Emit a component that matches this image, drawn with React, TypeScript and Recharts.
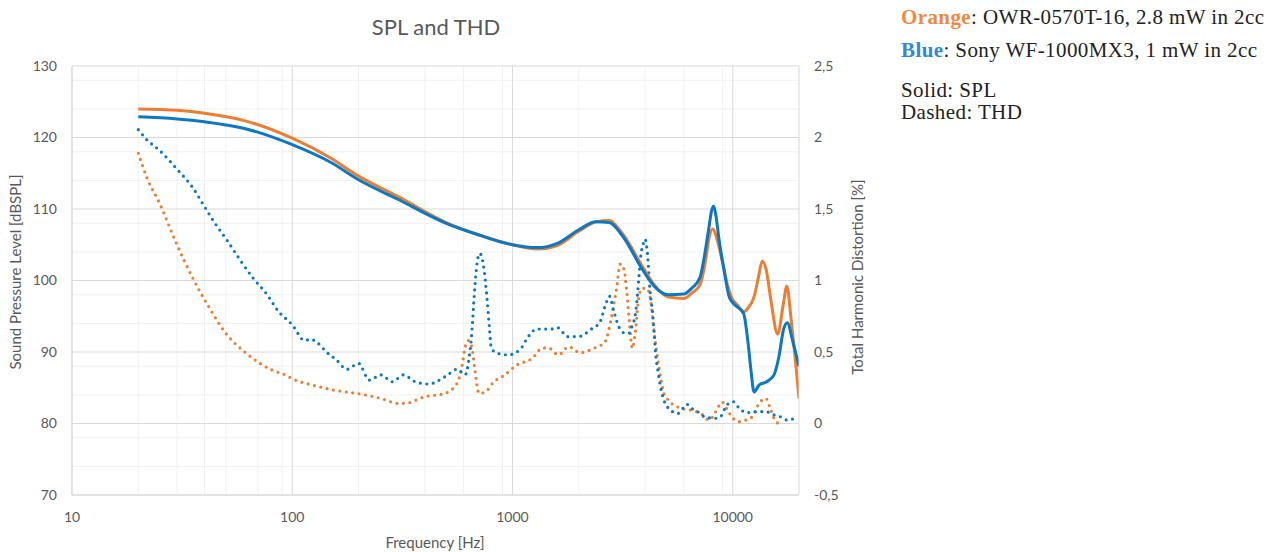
import React from 'react';
import { LineChart, Line, XAxis, YAxis, CartesianGrid } from 'recharts';

// SPL curves (dB SPL vs Hz)
const orangeSplFreq = [20, 30, 40, 60, 100, 150, 200, 300, 500, 700, 1000, 1300, 1600, 2000, 2400, 2750, 3150, 3900, 4400, 5100, 6000, 6500, 7100, 7540, 7800, 8130, 8500, 9000, 9500, 10000, 10500, 11200, 11700, 12500, 13100, 13600, 14200, 14900, 16000, 17000, 17600, 18500, 20000];
const orangeSplDb = [124.0, 123.8, 123.4, 122.4, 119.9, 117.1, 114.6, 111.8, 108.1, 106.4, 105.0, 104.4, 104.9, 106.9, 108.2, 108.4, 106.6, 101.9, 99.4, 97.7, 97.5, 98.2, 99.4, 102.9, 105.9, 107.2, 105.7, 102.5, 99.2, 97.3, 96.6, 95.6, 96.1, 97.7, 100.5, 102.7, 101.5, 97.3, 92.5, 96.8, 99.2, 94.0, 83.5];

const blueSplFreq = [20, 30, 40, 60, 100, 150, 200, 300, 500, 700, 1000, 1300, 1600, 2000, 2400, 2750, 3150, 3900, 4400, 5100, 6000, 6500, 7100, 7430, 7770, 8040, 8170, 8400, 8670, 9130, 9620, 10000, 11200, 11700, 12100, 12500, 13200, 14200, 15400, 16200, 17000, 17700, 18700, 20000];
const blueSplDb = [122.9, 122.6, 122.2, 121.3, 119.0, 116.5, 114.1, 111.4, 108.0, 106.4, 105.0, 104.6, 105.2, 107.1, 108.2, 108.1, 106.3, 101.5, 99.2, 98.0, 98.1, 98.9, 100.4, 103.3, 107.1, 109.9, 110.4, 109.0, 105.7, 101.5, 97.8, 96.9, 95.4, 91.7, 87.5, 84.4, 85.4, 85.8, 86.8, 89.3, 93.1, 94.1, 91.6, 88.0];

// THD curves (% vs Hz)
const orangeThdFreq = [20, 22, 25, 29.4, 35, 42, 50, 62, 82, 93, 101, 125, 154, 204, 252, 303, 325, 400, 492, 560, 590, 610, 630, 655, 675, 705, 755, 820, 910, 1050, 1230, 1360, 1450, 1620, 1800, 2030, 2340, 2630, 2820, 2960, 3090, 3200, 3300, 3400, 3500, 3620, 3730, 3870, 4080, 4240, 4390, 4550, 4700, 4870, 5130, 5830, 6440, 7160, 7810, 8370, 8960, 9460, 10140, 10680, 11460, 12290, 13170, 14130, 14900, 15690, 16830];
const orangeThdPct = [1.89, 1.71, 1.54, 1.28, 1.03, 0.81, 0.63, 0.49, 0.37, 0.34, 0.31, 0.267, 0.234, 0.206, 0.176, 0.141, 0.141, 0.187, 0.21, 0.28, 0.4, 0.537, 0.58, 0.526, 0.374, 0.21, 0.222, 0.29, 0.334, 0.41, 0.456, 0.526, 0.53, 0.48, 0.537, 0.495, 0.526, 0.57, 0.75, 0.93, 1.115, 1.085, 0.93, 0.7, 0.526, 0.65, 0.86, 0.945, 0.945, 0.86, 0.65, 0.47, 0.33, 0.21, 0.16, 0.106, 0.094, 0.07, 0.024, 0.083, 0.15, 0.094, 0.03, 0.013, 0.024, 0.048, 0.14, 0.176, 0.094, 0.013, -0.01];

const blueThdFreq = [20, 22, 24.7, 29.7, 35.5, 40, 44.6, 50.5, 58, 66.6, 77, 86, 100, 114, 121, 130, 143, 159, 177, 200, 224, 253, 285, 320, 362, 416, 500, 560, 610, 630, 655, 670, 685, 710, 740, 765, 785, 800, 840, 960, 1087, 1166, 1286, 1490, 1605, 1780, 2030, 2250, 2500, 2630, 2760, 2880, 3040, 3200, 3370, 3490, 3620, 3710, 3820, 3930, 4000, 4100, 4210, 4330, 4400, 4480, 4570, 4700, 4870, 5050, 5330, 5630, 6200, 6500, 6920, 7430, 8240, 8800, 9400, 10100, 10700, 11700, 12700, 14100, 15400, 16400, 17700, 19500];
const blueThdPct = [2.055, 1.98, 1.917, 1.785, 1.645, 1.516, 1.4, 1.283, 1.143, 1.015, 0.9, 0.79, 0.69, 0.58, 0.59, 0.565, 0.5, 0.444, 0.379, 0.42, 0.304, 0.34, 0.292, 0.34, 0.292, 0.276, 0.332, 0.379, 0.34, 0.42, 0.654, 0.887, 1.073, 1.19, 1.097, 0.887, 0.677, 0.537, 0.495, 0.48, 0.52, 0.596, 0.66, 0.66, 0.67, 0.607, 0.61, 0.654, 0.712, 0.817, 0.89, 0.79, 0.677, 0.635, 0.63, 0.68, 0.77, 0.93, 1.166, 1.26, 1.29, 1.19, 0.93, 0.77, 0.63, 0.467, 0.374, 0.257, 0.164, 0.117, 0.083, 0.07, 0.134, 0.106, 0.083, 0.048, 0.036, 0.048, 0.13, 0.152, 0.106, 0.076, 0.083, 0.083, 0.06, 0.048, 0.024, 0.043];

const freqTicks = [10, 100, 1000, 10000];
const splTicks = [70, 80, 90, 100, 110, 120, 130];
const thdTicks = [-0.5, 0, 0.5, 1, 1.5, 2, 2.5];

const zip = (f: number[], v: number[]) => f.map((x, i) => ({ f: x, v: v[i] }));

const ORANGE = '#ED7D31';
const BLUE = '#0A78C2';

// minor grid: 2..9 per decade, every 2 dB
const minorFreq = [10, 100, 1000].flatMap((d) => [2, 3, 4, 5, 6, 7, 8, 9].map((m) => m * d));
const minorSpl: number[] = [];
for (let v = 72; v < 130; v += 2) if (v % 10 !== 0) minorSpl.push(v);

const tickStyle = { fill: '#595959', fontSize: 14, fontFamily: 'Lato' };

export default function App() {
  return (
    <div style={{ position: 'absolute', left: 0, top: 0, width: 1283, height: 552, background: '#fff' }}>
      <LineChart width={1283} height={552} margin={{ top: 66, right: 414, bottom: 0, left: 0 }}>
        <CartesianGrid yAxisId="spl" verticalValues={minorFreq} horizontalValues={minorSpl} stroke="#f0f0f0" />
        <CartesianGrid yAxisId="spl" verticalValues={freqTicks} horizontalValues={splTicks} stroke="#d9d9d9" />
        <XAxis
          dataKey="f"
          type="number"
          scale="log"
          domain={[10, 20000]}
          ticks={freqTicks}
          allowDataOverflow
          height={57}
          tickSize={0}
          tickMargin={17}
          tick={tickStyle}
          axisLine={{ stroke: '#d9d9d9' }}
          tickLine={false}
        />
        <YAxis
          yAxisId="spl"
          orientation="left"
          width={72}
          domain={[70, 130]}
          ticks={splTicks}
          tickSize={0}
          tickMargin={15}
          tick={tickStyle}
          axisLine={{ stroke: '#d9d9d9' }}
          tickLine={false}
        />
        <YAxis
          yAxisId="thd"
          orientation="right"
          width={70}
          domain={[-0.5, 2.5]}
          ticks={thdTicks}
          tickFormatter={(v: number) => String(v).replace('.', ',')}
          tickSize={0}
          tickMargin={15}
          tick={tickStyle}
          axisLine={{ stroke: '#d9d9d9' }}
          tickLine={false}
        />
        <Line yAxisId="thd" data={zip(orangeThdFreq, orangeThdPct)} dataKey="v" type="monotone" stroke={ORANGE} strokeWidth={3.2} strokeDasharray="0 6.5" strokeLinecap="round" dot={false} isAnimationActive={false} />
        <Line yAxisId="thd" data={zip(blueThdFreq, blueThdPct)} dataKey="v" type="monotone" stroke={BLUE} strokeWidth={3.2} strokeDasharray="0 6.5" strokeLinecap="round" dot={false} isAnimationActive={false} />
        <Line yAxisId="spl" data={zip(orangeSplFreq, orangeSplDb)} dataKey="v" type="monotone" stroke={ORANGE} strokeWidth={3} dot={false} isAnimationActive={false} />
        <Line yAxisId="spl" data={zip(blueSplFreq, blueSplDb)} dataKey="v" type="monotone" stroke={BLUE} strokeWidth={3} dot={false} isAnimationActive={false} />
      </LineChart>

      <svg width={1283} height={552} style={{ position: 'absolute', left: 0, top: 0, pointerEvents: 'none' }}>
        <g fill="#595959" fontFamily="Lato">
          <text x={436} y={35} textAnchor="middle" fontSize={22}>SPL and THD</text>
          <text x={435} y={548} textAnchor="middle" fontSize={15}>Frequency [Hz]</text>
          <text transform="translate(21,272) rotate(-90)" textAnchor="middle" fontSize={15}>Sound Pressure Level [dBSPL]</text>
          <text transform="translate(863,277) rotate(-90)" textAnchor="middle" fontSize={15}>Total Harmonic Distortion [%]</text>
        </g>
        <g fill="#222" fontFamily="'Liberation Serif', serif" fontSize={21} letterSpacing={0.4}>
          <text x={901} y={24}>
            <tspan fill="#F0883F" fontWeight="bold">Orange</tspan>: OWR-0570T-16, 2.8 mW in 2cc
          </text>
          <text x={901} y={57}>
            <tspan fill="#2F8AD0" fontWeight="bold">Blue</tspan>: Sony WF-1000MX3, 1 mW in 2cc
          </text>
          <text x={901} y={97}>Solid: SPL</text>
          <text x={901} y={119}>Dashed: THD</text>
        </g>
      </svg>
    </div>
  );
}
